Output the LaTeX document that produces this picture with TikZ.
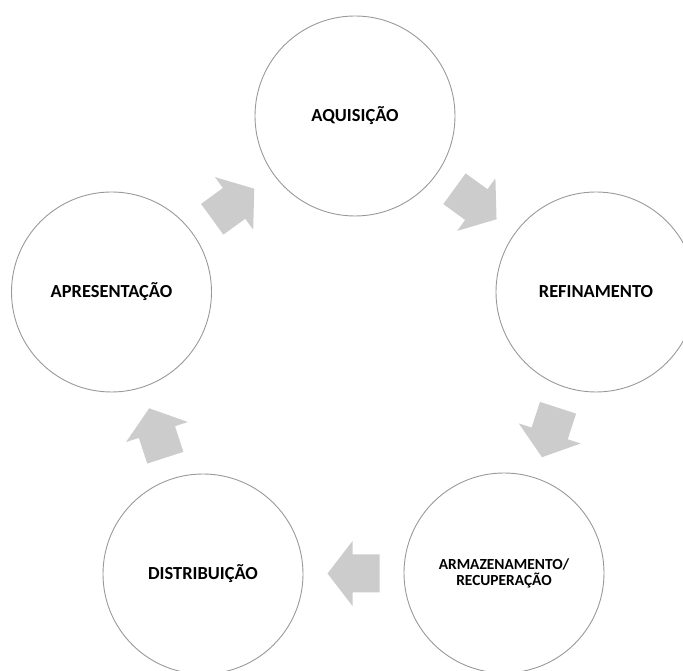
\documentclass[tikz,border=0pt]{standalone}
\usepackage{fontspec}
\setmainfont{Carlito}
\usetikzlibrary{calc}
\begin{document}
\begin{tikzpicture}[x=1pt,y=1pt,font=\bfseries\fontsize{18.4}{22}\selectfont,
  etapa/.style={draw=black!40,line width=0.9pt,circle,minimum size=200pt,inner sep=0pt,align=center},
  seta/.pic={\fill[gray!40] (-26,-19) -- (1,-19) -- (1,-32.5) -- (26,0) -- (1,32.5) -- (1,19) -- (-26,19) -- cycle;}]
  \useasboundingbox (0,0) rectangle (683,671);
  \node[etapa] (aq) at (355,555){AQUISIÇÃO};
  \node[etapa] (ref) at (596,379){REFINAMENTO};
  \node[etapa,font=\bfseries\fontsize{15.4}{16}\selectfont] (arm) at (504,98){ARMAZENAMENTO/\\RECUPERAÇÃO};
  \node[etapa] (dist) at (203,97){DISTRIBUIÇÃO};
  \node[etapa] (apr) at (111.5,379){APRESENTAÇÃO};
  \pic[rotate=36] (s1) at ($(apr)!0.5!(aq)$) {seta};
  \pic[rotate=-36] (s2) at ($(aq)!0.5!(ref)$) {seta};
  \pic[rotate=-108] (s3) at ($(ref)!0.5!(arm)$) {seta};
  \pic[rotate=180] (s4) at ($(arm)!0.5!(dist)$) {seta};
  \pic[rotate=108] (s5) at ($(dist)!0.5!(apr)$) {seta};
\end{tikzpicture}
\end{document}
